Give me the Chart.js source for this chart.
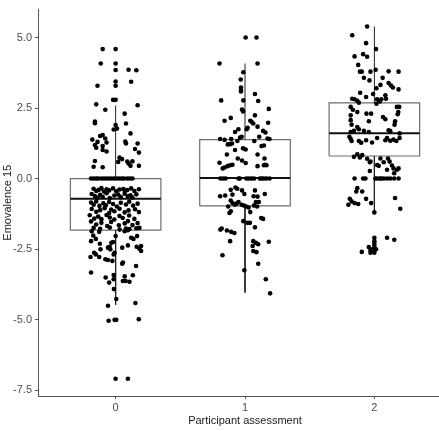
<!DOCTYPE html>
<html>
<head>
<meta charset="utf-8">
<script src="https://cdn.jsdelivr.net/npm/chart.js@4.4.0/dist/chart.umd.min.js"></script>
<style>
  html, body { margin: 0; padding: 0; background: #fff; overflow: hidden; }
  #wrap { width: 456px; height: 431px; }
</style>
</head>
<body>
<div id="wrap"><canvas id="chart" width="456" height="431"></canvas></div>
<script>
// --- DATA ---
const categories = [0, 1, 2];
const yTicks = [-7.5, -5.0, -2.5, 0.0, 2.5, 5.0];

// box statistics per category
const q1 = [-1.83, -0.97, 0.80];
const medians = [-0.72, 0.02, 1.61];
const q3 = [0.00, 1.38, 2.68];
const whiskerLow = [-4.48, -4.04, -1.22];
const whiskerHigh = [2.59, 4.08, 5.39];

// jittered points: [horizontal jitter, value]
const group0 = [
  [-0.10, 4.59], [0.00, 4.59], [-0.115, 4.08], [0.00, 4.08], [0.00, 3.85], [0.10, 3.86], [0.16, 3.84],
  [0.00, 3.44], [0.12, 3.43], [0.00, 3.29], [-0.14, 3.29], [-0.02, 2.79], [0.00, 2.79], [-0.15, 2.63],
  [0.17, 2.60], [-0.08, 2.44], [0.07, 2.30], [-0.16, 2.02], [-0.16, 1.96], [0.00, 1.90], [0.08, 1.95],
  [-0.015, 1.74], [0.01, 1.77], [0.115, 1.60], [-0.12, 1.51], [-0.10, 1.54], [-0.08, 1.42], [-0.18, 1.38],
  [-0.14, 1.30], [-0.07, 1.28], [0.075, 1.31], [0.08, 1.24], [0.17, 1.24], [-0.16, 1.19], [-0.15, 1.09],
  [-0.10, 1.15], [-0.10, 1.01], [-0.07, 0.96], [0.15, 1.05], [0.18, 0.92], [0.03, 0.74], [0.05, 0.69],
  [-0.16, 0.62], [0.02, 0.59], [0.09, 0.60], [0.10, 0.53], [0.13, 0.61], [0.18, 0.45], [-0.17, 0.42],
  [-0.10, 0.40], [0.115, 0.45],
  [-0.19, 0], [-0.17, 0], [-0.15, 0], [-0.135, 0], [-0.11, 0], [-0.09, 0], [-0.07, 0], [-0.05, 0],
  [-0.03, 0], [-0.01, 0], [0.01, 0], [0.03, 0], [0.05, 0], [0.065, 0], [0.09, 0], [0.11, 0], [0.13, 0],
  [-0.17, -0.36], [-0.15, -0.44], [-0.13, -0.40], [-0.11, -0.34], [-0.09, -0.46], [-0.07, -0.38],
  [-0.05, -0.42], [-0.02, -0.35], [0.005, -0.45], [0.03, -0.39], [0.06, -0.37], [0.07, -0.43],
  [0.09, -0.41], [0.12, -0.35], [0.145, -0.44], [0.18, -0.38],
  [-0.185, -0.55], [-0.16, -0.62], [-0.14, -0.68], [-0.12, -0.58], [-0.10, -0.65], [-0.07, -0.52],
  [-0.045, -0.69], [-0.01, -0.60], [0.02, -0.57], [0.04, -0.66], [0.07, -0.54], [0.095, -0.63],
  [0.115, -0.59], [0.13, -0.67], [0.16, -0.56],
  [-0.19, -0.85], [-0.17, -0.93], [-0.15, -0.81], [-0.125, -0.97], [-0.095, -0.88], [-0.075, -0.95],
  [-0.05, -0.83], [-0.02, -0.90], [0.01, -0.99], [0.04, -0.86], [0.08, -0.92], [0.105, -0.82],
  [0.135, -0.96], [0.17, -0.89],
  [-0.185, -1.08], [-0.15, -1.18], [-0.12, -1.12], [-0.085, -1.05], [-0.05, -1.22], [-0.035, -1.10],
  [-0.01, -1.16], [0.03, -1.07], [0.07, -1.20], [0.10, -1.13], [0.15, -1.09], [0.18, -1.19],
  [-0.20, -1.30], [-0.165, -1.42], [-0.135, -1.35], [-0.11, -1.44], [-0.07, -1.29], [-0.045, -1.38],
  [-0.01, -1.45], [0.03, -1.33], [0.055, -1.40], [0.105, -1.31], [0.145, -1.43],
  [-0.19, -1.52], [-0.15, -1.63], [-0.11, -1.57], [-0.065, -1.68], [-0.035, -1.54], [0.025, -1.66],
  [0.07, -1.59], [0.095, -1.51], [0.13, -1.65], [0.17, -1.58],
  [-0.17, -1.75], [-0.12, -1.78], [-0.045, -1.74], [0.08, -1.77], [0.16, -1.76],
  [-0.185, -1.87], [-0.127, -1.89], [0.031, -1.81], [0.07, -1.87], [0.095, -1.83], [0.107, -1.79],
  [0.184, -1.75], [-0.173, -2.02], [-0.153, -2.14], [-0.19, -2.22], [-0.122, -2.31], [-0.033, -2.28],
  [-0.02, -2.25], [0.00, -2.04], [0.12, -2.10], [0.138, -2.14], [0.166, -2.04], [-0.059, -2.45],
  [-0.046, -2.42], [-0.041, -2.51], [-0.117, -2.51], [0.051, -2.45], [0.095, -2.37], [0.163, -2.42],
  [0.184, -2.49], [0.197, -2.57], [0.197, -2.39], [-0.166, -2.63], [-0.153, -2.69], [-0.194, -2.78],
  [-0.127, -2.78], [-0.079, -2.86], [-0.059, -2.89], [-0.025, -2.92], [-0.015, -2.69], [-0.008, -2.63],
  [0.056, -2.98], [0.051, -3.02], [0.158, -3.10], [-0.19, -3.33], [-0.077, -3.51], [-0.015, -3.42],
  [-0.015, -3.57], [0.056, -3.63], [0.077, -3.63], [0.107, -3.66], [0.07, -3.47], [0.133, -3.43],
  [-0.05, -3.69], [-0.013, -3.92], [0.005, -4.27], [-0.059, -4.51], [0.153, -4.41],
  [-0.054, -5.04], [-0.008, -5.01], [0.005, -5.01], [0.179, -4.99], [0.00, -7.10], [0.095, -7.10]
];

const group1 = [
  [0.005, 5.00], [0.089, 5.00], [-0.197, 4.08], [0.097, 4.08], [-0.013, 3.77], [-0.033, 3.51],
  [-0.031, 3.23], [-0.031, 3.14], [-0.031, 3.09], [0.077, 3.00], [-0.184, 2.77], [-0.013, 2.77],
  [0.102, 2.75], [-0.023, 2.45], [-0.015, 2.38], [0.077, 2.24], [0.184, 2.47], [-0.158, 2.05],
  [-0.11, 2.15], [0.041, 2.05], [0.051, 2.01], [0.064, 1.95], [0.179, 1.98], [0.013, 1.75],
  [0.02, 1.80], [-0.051, 1.75], [-0.077, 1.65], [0.097, 1.84], [0.14, 1.69], [0.158, 1.63],
  [-0.192, 1.40], [-0.158, 1.37], [-0.107, 1.40], [-0.038, 1.45], [-0.026, 1.48], [-0.059, 1.33],
  [0.072, 1.33], [0.11, 1.48], [0.174, 1.42], [0.189, 1.40], [-0.133, 1.21], [-0.115, 1.22],
  [-0.10, 1.24], [0.128, 1.15], [0.146, 1.17], [-0.077, 1.01], [-0.015, 1.07], [0.005, 1.03],
  [-0.14, 0.85], [-0.056, 0.71], [0.097, 0.85], [0.151, 0.71], [-0.197, 0.56], [-0.023, 0.64],
  [0.005, 0.55], [0.097, 0.44], [-0.172, 0.36], [-0.158, 0.39], [-0.135, 0.44], [-0.115, 0.47],
  [-0.097, 0.49], [0.146, 0.47], [0.156, 0.49], [0.166, 0.47],
  [-0.19, 0], [-0.17, 0], [-0.15, 0], [-0.05, 0], [-0.04, 0], [0.01, 0], [0.03, 0], [0.05, 0],
  [0.07, 0], [0.115, 0], [0.13, 0], [0.145, 0], [0.165, 0], [0.19, 0],
  [-0.192, -0.63], [-0.153, -0.60], [-0.11, -0.40], [-0.074, -0.32], [-0.06, -0.36], [-0.097, -0.57],
  [-0.023, -0.42], [-0.005, -0.55], [0.077, -0.42], [0.067, -0.63], [0.097, -0.64], [0.153, -0.55],
  [-0.11, -0.78], [-0.097, -0.87], [-0.079, -0.93], [-0.066, -0.89], [-0.05, -0.83], [-0.13, -0.99],
  [-0.026, -0.93], [-0.008, -0.96], [0.008, -0.99], [0.028, -1.03], [0.069, -0.96], [0.094, -0.99],
  [0.107, -0.83], [0.084, -0.83], [0.041, -1.19], [-0.12, -1.22], [-0.11, -1.16], [0.125, -1.40],
  [0.14, -1.43], [-0.013, -1.51], [0.02, -1.57], [0.038, -1.57], [0.077, -1.73], [-0.18, -1.77],
  [-0.19, -1.81], [-0.14, -1.84], [-0.107, -1.89], [-0.082, -1.93], [-0.115, -2.22], [0.064, -2.22],
  [0.084, -2.28], [0.102, -2.33], [0.184, -2.24], [0.059, -2.39], [0.064, -2.57], [0.089, -2.61],
  [-0.174, -2.72], [0.102, -3.02], [-0.005, -3.25], [0.161, -3.57], [0.194, -4.07]
];

const group2 = [
  [-0.056, 5.39], [-0.171, 5.08], [-0.064, 4.80], [0.013, 4.59], [-0.153, 4.33], [-0.087, 4.41],
  [-0.056, 4.32], [-0.125, 4.03], [-0.112, 3.79], [-0.097, 3.79], [-0.03, 3.79], [0.01, 3.86],
  [0.11, 3.80], [0.187, 3.79], [-0.081, 3.57], [-0.038, 3.48], [0.064, 3.57], [0.016, 3.20],
  [0.047, 3.32], [0.11, 3.39], [0.128, 3.30], [0.143, 3.23], [0.187, 3.16], [-0.11, 3.04],
  [-0.01, 3.00], [0.085, 2.95], [-0.064, 2.89], [-0.171, 2.83], [-0.153, 2.81], [-0.132, 2.76],
  [-0.12, 2.69], [0.021, 2.81], [0.042, 2.73], [0.054, 2.81], [0.09, 2.83], [0.016, 2.65],
  [-0.183, 2.54], [-0.166, 2.44], [-0.132, 2.36], [0.174, 2.54], [0.192, 2.54], [0.185, 2.36],
  [0.18, 2.28], [-0.061, 2.30], [-0.025, 2.30], [-0.043, 2.03], [-0.183, 2.24], [-0.183, 2.07],
  [-0.176, 1.91], [0.067, 2.18], [0.085, 2.10], [0.16, 2.03], [0.156, 1.91], [-0.132, 1.83],
  [-0.12, 1.75], [-0.183, 1.65], [-0.158, 1.69], [-0.081, 1.69], [-0.043, 1.65], [0.11, 1.71],
  [0.123, 1.68], [0.195, 1.60], [-0.193, 1.48], [-0.183, 1.40], [-0.176, 1.33], [-0.12, 1.33],
  [-0.102, 1.27], [-0.064, 1.36], [-0.018, 1.28], [0.021, 1.44], [0.085, 1.36], [0.098, 1.44],
  [0.123, 1.34], [0.148, 1.38], [0.17, 1.33], [0.195, 1.44], [-0.158, 0.77], [-0.132, 0.86],
  [-0.112, 0.75], [-0.094, 0.83], [-0.056, 0.70], [-0.035, 0.58], [0.047, 0.71], [0.072, 0.58],
  [0.105, 0.71], [0.118, 0.60], [0.136, 0.46], [0.021, 0.48], [0.034, 0.45], [-0.03, 0.60],
  [0.148, 0.36], [0.174, 0.31], [0.187, 0.36], [0.153, 0.19], [0.098, 0.31], [-0.035, 0.27],
  [-0.153, 0], [-0.087, 0], [-0.069, 0], [0.008, 0], [0.021, 0], [0.042, 0], [0.052, 0],
  [0.072, 0], [0.098, 0], [0.123, 0], [0.153, 0], [0.187, 0],
  [-0.132, -0.34], [-0.14, -0.46], [-0.094, -0.46], [-0.19, -0.72], [-0.201, -0.93], [-0.176, -0.81],
  [-0.153, -0.87], [-0.125, -0.90], [-0.064, -0.72], [-0.025, -0.87], [0.00, -1.20], [0.16, -0.69],
  [0.20, -1.07], [-0.097, -2.60], [-0.043, -2.43], [-0.03, -2.55], [0.00, -2.10], [0.00, -2.22],
  [0.00, -2.31], [0.00, -2.39], [-0.018, -2.51], [0.013, -2.51], [-0.03, -2.63], [0.00, -2.63],
  [0.098, -2.10], [0.154, -2.17]
];

const pointGroups = [group0, group1, group2];

// --- STYLE ---
const FONT = "'Liberation Sans', Arial, sans-serif";
const BOX_HALF = 0.35;

const datasets = [];

// points on top
pointGroups.forEach((pts, i) => {
  datasets.push({
    data: pts.map(([dx, v]) => ({ x: categories[i] + dx, y: v })),
    backgroundColor: "#000",
    borderWidth: 0,
    pointRadius: 2.3,
    order: 0,
  });
});

// boxes, medians and whiskers underneath
categories.forEach((c, i) => {
  datasets.push({
    data: [
      { x: c - BOX_HALF, y: q1[i] }, { x: c + BOX_HALF, y: q1[i] },
      { x: c + BOX_HALF, y: q3[i] }, { x: c - BOX_HALF, y: q3[i] },
      { x: c - BOX_HALF, y: q1[i] },
    ],
    showLine: true, pointRadius: 0, borderColor: "#6e6e6e", borderWidth: 1.2, order: 2,
  });
  datasets.push({
    data: [{ x: c - BOX_HALF, y: medians[i] }, { x: c + BOX_HALF, y: medians[i] }],
    showLine: true, pointRadius: 0, borderColor: "#111", borderWidth: 2, order: 1,
  });
  datasets.push({
    data: [{ x: c, y: q3[i] }, { x: c, y: whiskerHigh[i] }],
    showLine: true, pointRadius: 0, borderColor: "#222", borderWidth: 1, order: 1,
  });
  datasets.push({
    data: [{ x: c, y: q1[i] }, { x: c, y: whiskerLow[i] }],
    showLine: true, pointRadius: 0, borderColor: "#222", borderWidth: 1, order: 1,
  });
});

const axisColor = "#555";

new Chart(document.getElementById("chart").getContext("2d"), {
  type: "scatter",
  data: { datasets },
  options: {
    responsive: false,
    animation: false,
    layout: { padding: { top: 7, left: 0, right: 0, bottom: 0 } },
    plugins: { legend: { display: false }, tooltip: { enabled: false } },
    scales: {
      x: {
        type: "linear",
        min: -0.6,
        max: 2.6,
        afterBuildTicks: s => { s.ticks = categories.map(v => ({ value: v })); },
        afterFit: s => { s.height = 35; },
        grid: { display: true, drawOnChartArea: false, drawTicks: true, tickLength: 3, color: axisColor },
        border: { display: true, color: axisColor, width: 1 },
        ticks: { color: "#4d4d4d", font: { family: FONT, size: 11 }, padding: 2.5, callback: v => String(v) },
        title: {
          display: true, text: "Participant assessment", color: "#1a1a1a",
          font: { family: FONT, size: 11 }, padding: { top: 0, bottom: 3.4 },
        },
      },
      y: {
        type: "linear",
        min: -7.71,
        max: 5.99,
        afterBuildTicks: s => { s.ticks = yTicks.map(v => ({ value: v })); },
        afterFit: s => { s.width = 38; },
        grid: { display: true, drawOnChartArea: false, drawTicks: true, tickLength: 3, color: axisColor },
        border: { display: true, color: axisColor, width: 1 },
        ticks: { color: "#4d4d4d", font: { family: FONT, size: 11 }, padding: 3, callback: v => v.toFixed(1) },
        title: {
          display: true, text: "Emovalence 15", color: "#1a1a1a",
          font: { family: FONT, size: 11 }, padding: { top: 1.4, bottom: 0 },
        },
      },
    },
  },
});
</script>
</body>
</html>
